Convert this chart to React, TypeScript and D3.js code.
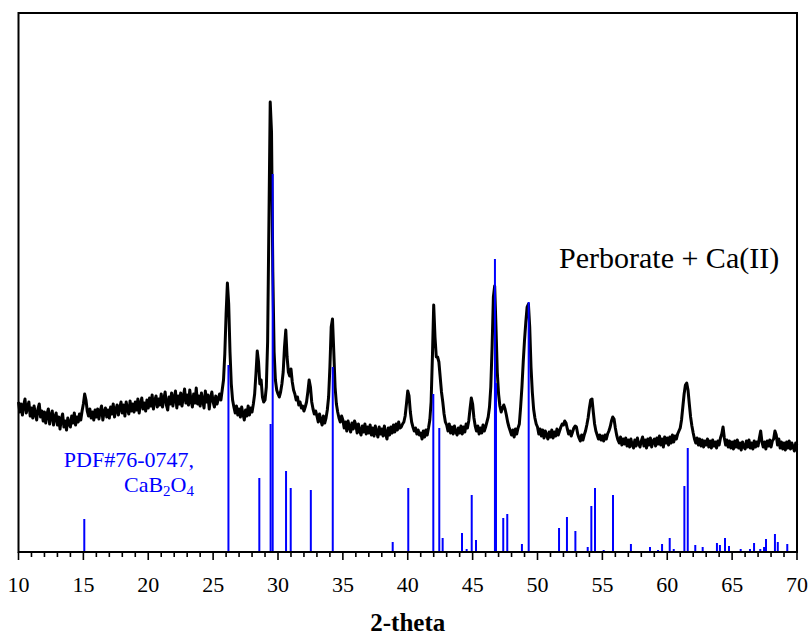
import React, { useRef, useEffect } from "react";
import * as d3 from "d3";

// XRD scan, 10-70 deg 2-theta, step 0.1 (a.u.)
const scanStart = 10;
const scanStep = 0.1;
const intensity = [
  150, 140, 148, 137, 147, 153, 139, 145, 150, 136, // 10
  144, 134, 146, 138, 132, 143, 148, 135, 141, 131, // 11
  140, 129, 138, 143, 128, 136, 141, 127, 135, 139, // 12
  127, 135, 123, 133, 138, 125, 131, 122, 134, 128, // 13
  125, 136, 129, 139, 127, 135, 130, 138, 132, 141, // 14
  148, 158, 152, 141, 136, 143, 134, 140, 132, 142, // 15
  135, 143, 133, 141, 146, 132, 140, 144, 135, 142, // 16
  134, 145, 138, 148, 135, 142, 147, 137, 144, 150, // 17
  139, 147, 136, 150, 143, 138, 151, 141, 148, 140, // 18
  150, 142, 153, 139, 148, 154, 143, 149, 141, 152, // 19
  144, 154, 146, 157, 143, 151, 156, 145, 153, 147, // 20
  158, 145, 153, 160, 147, 142, 155, 148, 159, 146, // 21
  154, 161, 144, 156, 148, 159, 146, 155, 163, 149, // 22
  157, 147, 162, 151, 145, 158, 149, 164, 148, 156, // 23
  146, 159, 151, 144, 161, 150, 157, 143, 154, 160, // 24
  150, 145, 156, 148, 153, 158, 152, 162, 172, 198, // 25
  238, 269, 248, 200, 168, 152, 145, 139, 146, 137, // 26
  143, 135, 145, 138, 132, 142, 136, 146, 137, 144, // 27
  140, 148, 158, 178, 201, 190, 168, 172, 155, 150, // 28
  152, 165, 210, 330, 450, 420, 280, 200, 172, 162, // 29
  158, 155, 160, 168, 180, 205, 222, 195, 180, 176, // 30
  183, 170, 162, 158, 152, 155, 147, 150, 144, 146, // 31
  141, 145, 150, 160, 172, 165, 150, 143, 138, 141, // 32
  136, 130, 138, 132, 127, 136, 129, 134, 142, 155, // 33
  185, 225, 233, 200, 165, 148, 140, 134, 130, 136, // 34
  132, 124, 130, 121, 131, 125, 120, 129, 123, 131, // 35
  127, 119, 128, 121, 117, 126, 120, 128, 118, 125, // 36
  119, 127, 117, 124, 116, 126, 120, 115, 125, 118, // 37
  123, 116, 126, 118, 113, 124, 117, 125, 119, 127, // 38
  120, 128, 122, 130, 124, 125, 128, 130, 136, 148, // 39
  161, 156, 140, 130, 125, 121, 124, 118, 122, 117, // 40
  119, 113, 121, 115, 122, 117, 124, 132, 150, 195, // 41
  247, 215, 195, 195, 190, 175, 160, 150, 138, 130, // 42
  127, 121, 128, 119, 125, 118, 126, 120, 117, 124, // 43
  119, 126, 118, 125, 120, 128, 124, 131, 143, 154, // 44
  148, 134, 126, 121, 126, 118, 124, 119, 127, 121, // 45
  125, 130, 135, 145, 165, 205, 255, 266, 225, 180, // 46
  158, 146, 140, 144, 147, 143, 137, 130, 125, 121, // 47
  117, 122, 115, 123, 118, 124, 128, 145, 165, 190, // 48
  212, 230, 245, 248, 225, 185, 160, 143, 134, 128, // 49
  125, 118, 123, 116, 122, 114, 121, 117, 113, 120, // 50
  115, 122, 114, 120, 116, 123, 117, 121, 125, 128, // 51
  127, 131, 129, 123, 118, 121, 116, 120, 124, 126, // 52
  125, 118, 114, 111, 117, 112, 117, 121, 127, 134, // 53
  144, 152, 153, 140, 128, 121, 117, 113, 117, 112, // 54
  116, 111, 117, 113, 118, 121, 125, 131, 135, 133, // 55
  124, 117, 112, 109, 115, 107, 113, 108, 114, 106, // 56
  112, 105, 113, 107, 104, 112, 106, 114, 108, 105, // 57
  111, 115, 106, 112, 104, 113, 107, 114, 105, 111, // 58
  113, 106, 114, 108, 116, 107, 113, 105, 115, 109, // 59
  114, 107, 115, 109, 117, 110, 116, 113, 118, 121, // 60
  124, 132, 145, 158, 167, 169, 162, 148, 135, 126, // 61
  119, 113, 109, 114, 107, 113, 106, 112, 105, 111, // 62
  107, 113, 105, 111, 104, 112, 106, 110, 104, 111, // 63
  107, 114, 118, 125, 114, 107, 112, 105, 111, 104, // 64
  110, 103, 111, 105, 112, 104, 109, 102, 110, 105, // 65
  103, 111, 105, 112, 104, 109, 103, 111, 105, 110, // 66
  106, 114, 121, 110, 105, 110, 103, 111, 106, 112, // 67
  105, 111, 113, 121, 117, 107, 113, 104, 110, 103, // 68
  109, 102, 110, 104, 111, 103, 109, 105, 101, 109, // 69
  107,
];

// reference pattern PDF#76-0747 (CaB2O4)
const refTwoTheta = [
  15.07, 26.18, 28.56, 29.43, 29.59, 30.62, 30.98, 32.53, 34.22, 38.84,
  40.04, 41.97, 42.43, 42.69, 44.18, 44.54, 44.93, 45.26, 46.72, 46.8,
  47.36, 47.67, 48.8, 49.32, 51.66, 52.27, 52.92, 53.87, 54.15, 54.43,
  55.1, 55.82, 57.2, 58.67, 59.29, 59.6, 60.19, 60.5, 61.32, 61.58,
  62.16, 62.73, 63.83, 64.06, 64.45, 64.76, 65.66, 66.38, 66.69, 67.17,
  67.46, 67.61, 68.3, 68.52, 69.25,
];
const refIntensity = [
  33, 187, 74, 128, 378, 81, 64, 62, 185, 10,
  64, 158, 124, 14, 19, 3, 57, 12, 293, 169,
  34, 38, 8, 250, 24, 35, 21, 5, 46, 64,
  2, 57, 8, 5, 2, 8, 14, 3, 66, 104,
  7, 5, 9, 7, 14, 6, 3, 3, 9, 3,
  5, 13, 18, 10, 8,
];

const majorTicks = [10, 15, 20, 25, 30, 35, 40, 45, 50, 55, 60, 65, 70];
const minorTicks = d3.range(10, 71, 1);

const xTitle = "2-theta";
const sampleLabel = "Perborate + Ca(II)";

export default function App() {
  const ref = useRef(null);

  useEffect(() => {
    const W = 809;
    const H = 635;
    const left = 18.5;
    const right = 797;
    const top = 13;
    const bottom = 552;
    const serif = "'Liberation Serif', 'Times New Roman', serif";

    const x = d3.scaleLinear().domain([10, 70]).range([left, right]);
    const y = d3.scaleLinear().domain([0, 539]).range([bottom, top]);

    const svg = d3.select(ref.current);
    svg.selectAll("*").remove();
    svg.attr("width", W).attr("height", H);

    svg
      .append("rect")
      .attr("width", W)
      .attr("height", H)
      .attr("fill", "#fff");

    // measured scan
    const line = d3
      .line<number>()
      .x((d, i) => x(scanStart + i * scanStep))
      .y((d) => y(d));

    svg
      .append("path")
      .datum(intensity)
      .attr("d", line)
      .attr("fill", "none")
      .attr("stroke", "#000")
      .attr("stroke-width", 3)
      .attr("stroke-linejoin", "round");

    // reference sticks
    svg
      .append("g")
      .selectAll("line")
      .data(refTwoTheta)
      .enter()
      .append("line")
      .attr("x1", (d) => x(d))
      .attr("x2", (d) => x(d))
      .attr("y1", y(0))
      .attr("y2", (d, i) => y(refIntensity[i]))
      .attr("stroke", "#0000ff")
      .attr("stroke-width", 2);

    // frame
    svg
      .append("path")
      .attr("d", `M${left},${bottom}V${top}H${right}V${bottom}Z`)
      .attr("fill", "none")
      .attr("stroke", "#000")
      .attr("stroke-width", 2);

    // ticks
    svg
      .append("g")
      .selectAll("line")
      .data(minorTicks)
      .enter()
      .append("line")
      .attr("x1", (d) => x(d))
      .attr("x2", (d) => x(d))
      .attr("y1", bottom)
      .attr("y2", (d) => bottom + (d % 5 === 0 ? 8 : 5))
      .attr("stroke", "#000")
      .attr("stroke-width", 1.6);

    svg
      .append("g")
      .selectAll("text")
      .data(majorTicks)
      .enter()
      .append("text")
      .attr("x", (d) => x(d))
      .attr("y", 592)
      .attr("text-anchor", "middle")
      .attr("font-family", serif)
      .attr("font-size", 22)
      .text((d) => d);

    svg
      .append("text")
      .attr("x", (left + right) / 2)
      .attr("y", 631)
      .attr("text-anchor", "middle")
      .attr("font-family", serif)
      .attr("font-weight", "bold")
      .attr("font-size", 25)
      .text(xTitle);

    svg
      .append("text")
      .attr("x", 559)
      .attr("y", 268)
      .attr("font-family", serif)
      .attr("font-size", 30)
      .text(sampleLabel);

    svg
      .append("text")
      .attr("x", 194)
      .attr("y", 467)
      .attr("text-anchor", "end")
      .attr("font-family", serif)
      .attr("font-size", 22)
      .attr("fill", "#0000ff")
      .text("PDF#76-0747,");

    const formula = svg
      .append("text")
      .attr("x", 194)
      .attr("y", 492)
      .attr("text-anchor", "end")
      .attr("font-family", serif)
      .attr("font-size", 22)
      .attr("fill", "#0000ff");
    formula.append("tspan").text("CaB");
    formula.append("tspan").attr("font-size", 15).attr("dy", 4).text("2");
    formula.append("tspan").attr("dy", -4).text("O");
    formula.append("tspan").attr("font-size", 15).attr("dy", 4).text("4");
  }, []);

  return (
    <svg
      ref={ref}
      style={{ position: "absolute", left: 0, top: 0, display: "block" }}
    />
  );
}
